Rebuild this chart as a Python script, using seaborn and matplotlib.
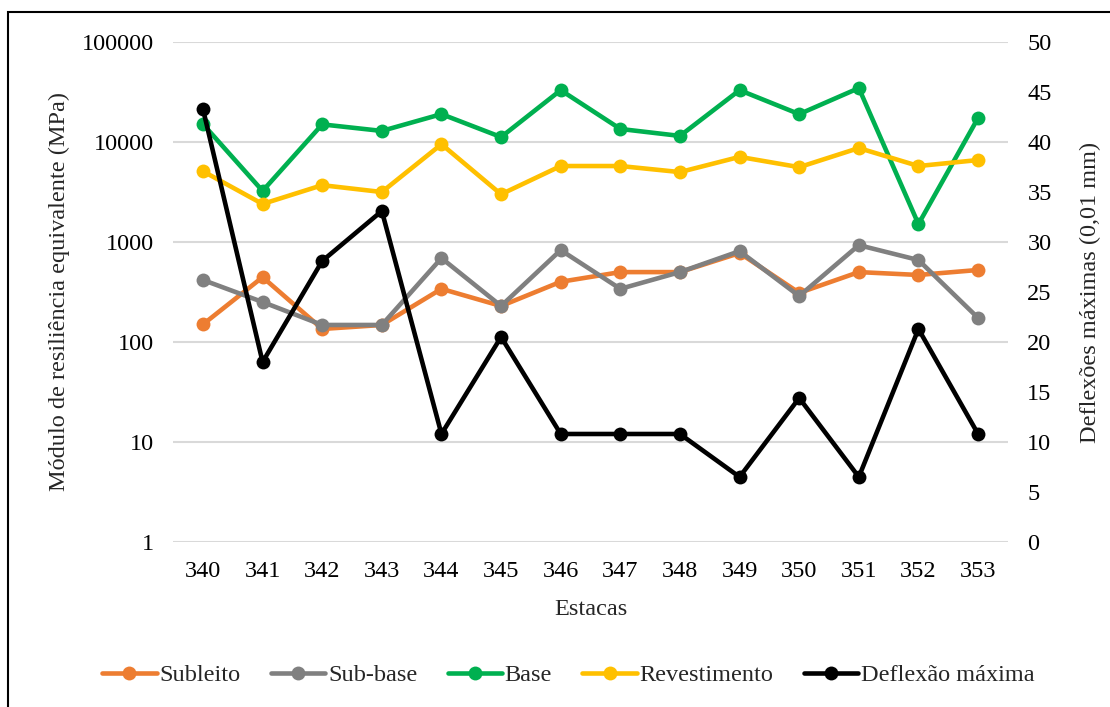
import numpy as np
import pandas as pd
import matplotlib
matplotlib.use("Agg")
import matplotlib.pyplot as plt
import seaborn as sns
from matplotlib.patches import Rectangle

# data
estacas = [340, 341, 342, 343, 344, 345, 346, 347, 348, 349, 350, 351, 352, 353]
subleito = [150, 445, 135, 148, 340, 229, 400, 500, 500, 775, 310, 500, 468, 525]
sub_base = [417, 251, 148, 148, 690, 229, 830, 340, 500, 810, 288, 930, 660, 174]
base = [15100, 3240, 15000, 12900, 19000, 11200, 33000, 13500, 11500, 33000, 19000, 34600, 1510, 17400]
revestimento = [5100, 2400, 3700, 3160, 9500, 3000, 5750, 5750, 5000, 7100, 5600, 8700, 5750, 6600]
deflexao = [43.3, 18.0, 28.1, 33.1, 10.8, 20.5, 10.8, 10.8, 10.8, 6.5, 14.4, 6.5, 21.3, 10.8]

camadas = ["Subleito", "Sub-base", "Base", "Revestimento"]
cores = ["#ED7D31", "#808080", "#00B050", "#FFC000"]

df = pd.DataFrame({
    "Estacas": estacas * 4,
    "modulo": subleito + sub_base + base + revestimento,
    "camada": np.repeat(camadas, len(estacas)),
})
df_def = pd.DataFrame({"Estacas": estacas, "deflexao": deflexao})

sns.set_theme(style="white")
plt.rcParams["font.family"] = ["Liberation Serif", "DejaVu Serif"]
FS = 17.5

fig = plt.figure(figsize=(11.1, 7.07), dpi=100)
ax = fig.add_axes([0.156, 0.2334, 0.752, 0.7072])
ax2 = ax.twinx()

sns.lineplot(data=df, x="Estacas", y="modulo", hue="camada", hue_order=camadas,
             palette=cores, marker="o", markersize=10, markeredgewidth=0,
             linewidth=3.3, ax=ax, legend=False)
sns.lineplot(data=df_def, x="Estacas", y="deflexao", color="black", marker="o",
             markersize=10, markeredgewidth=0, linewidth=3.3, ax=ax2, legend=False)

ax.set_yscale("log")
ax.set_ylim(1, 100000)
ax.set_yticks([1, 10, 100, 1000, 10000, 100000])
ax.set_yticklabels(["1", "10", "100", "1000", "10000", "100000"])
ax.minorticks_off()
ax.set_xlim(339.5, 353.5)
ax.set_xticks(estacas)
ax.set_xticklabels([str(e) for e in estacas])
ax.grid(axis="y", color="#D9D9D9", linewidth=1.5)
ax.set_axisbelow(True)

ax2.set_ylim(0, 50)
ax2.set_yticks(range(0, 51, 5))
ax2.grid(False)

for a in (ax, ax2):
    for s in a.spines.values():
        s.set_visible(False)
    a.tick_params(axis="both", length=0, labelsize=FS, pad=14, colors="black")

ax.set_xlabel("Estacas", fontsize=FS, labelpad=12)
ax.set_ylabel("Módulo de resiliência equivalente (MPa)", fontsize=FS, labelpad=8)
ax2.set_ylabel("Deflexões máximas (0,01 mm)", fontsize=FS, labelpad=20)

handles = ax.get_lines()[:4] + ax2.get_lines()[:1]
labels = camadas + ["Deflexão máxima"]
fig.legend(handles, labels, loc="center", bbox_to_anchor=(0.512, 0.045), ncol=5,
           frameon=False, fontsize=FS, handlelength=2.25, handletextpad=0.1,
           columnspacing=1.25)

fig.patches.append(Rectangle((0.0072, -0.1), 1.2, 1.0 - 0.017 + 0.1,
                             transform=fig.transFigure, fill=False,
                             edgecolor="black", linewidth=1.5))

fig.savefig("out.png", dpi=100)
